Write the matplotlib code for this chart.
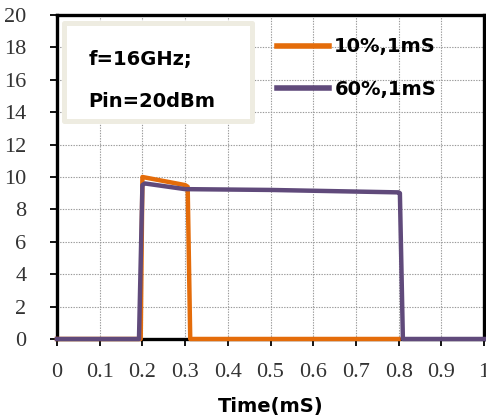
import matplotlib.pyplot as plt
from matplotlib.patches import Rectangle

# pulse envelopes, time in mS, amplitude
t_10 = [0, 0.196, 0.200, 0.300, 0.306, 0.312, 0.80]
v_10 = [0, 0, 10.0, 9.5, 9.4, 0, 0]

t_60 = [0, 0.192, 0.200, 0.206, 0.30, 0.50, 0.80, 0.803, 0.810, 1.0]
v_60 = [0, 0, 9.5, 9.6, 9.25, 9.2, 9.05, 9.0, 0, 0]

x_ticks = [0, 0.1, 0.2, 0.3, 0.4, 0.5, 0.6, 0.7, 0.8, 0.9, 1]
x_labels = ['0', '0.1', '0.2', '0.3', '0.4', '0.5', '0.6', '0.7', '0.8', '0.9', '1']
y_ticks = [0, 2, 4, 6, 8, 10, 12, 14, 16, 18, 20]

orange = '#E46C0A'
purple = '#604A7B'

fig = plt.figure(figsize=(4.86, 4.2), dpi=100)
ax = fig.add_axes([0.1173, 0.1929, 0.8786, 0.7714])

ax.plot(t_10, v_10, color=orange, lw=3.2, label='10%,1mS', zorder=5, clip_on=False)
ax.plot(t_60, v_60, color=purple, lw=3.2, label='60%,1mS', zorder=6, clip_on=False)

ax.set_xlim(0, 1)
ax.set_ylim(0, 20)
ax.set_xticks(x_ticks)
ax.set_xticklabels(x_labels)
ax.set_yticks(y_ticks)

ax.grid(True, color='#999999', ls=(0, (1.2, 1.2)), lw=0.8, zorder=0)
ax.set_axisbelow(True)

for s in ax.spines.values():
    s.set_linewidth(2.4)
    s.set_color('black')
    s.set_zorder(4)

ax.tick_params(axis='both', direction='out', length=5, width=1.3, color='black')
ax.tick_params(axis='y', pad=17)
ax.tick_params(axis='x', pad=12)
for lab in ax.get_xticklabels() + ax.get_yticklabels():
    lab.set_fontfamily('Liberation Serif')
    lab.set_fontsize(16)
    lab.set_color('#333333')

ax.set_xlabel('Time(mS)', fontsize=14, fontweight='bold', family='DejaVu Sans', labelpad=11)

# note box with the test conditions
box = Rectangle((0.016, 13.45), 0.44, 6.05, facecolor='white', edgecolor='#EEECE1',
                lw=3.6, joinstyle='round', zorder=3)
ax.add_patch(box)
ax.text(0.073, 16.9, 'f=16GHz;', fontsize=14, fontweight='bold', family='DejaVu Sans',
        va='baseline', zorder=4)
ax.text(0.073, 14.3, 'Pin=20dBm', fontsize=14, fontweight='bold', family='DejaVu Sans',
        va='baseline', zorder=4)

leg = ax.legend(loc='upper left', bbox_to_anchor=(0.474, 0.985), frameon=False,
                handlelength=2.7, handletextpad=0.25, labelspacing=1.2,
                prop={'family': 'DejaVu Sans', 'weight': 'bold', 'size': 14})
for h in leg.get_lines():
    h.set_linewidth(4)

fig.savefig('out.png', dpi=100)
